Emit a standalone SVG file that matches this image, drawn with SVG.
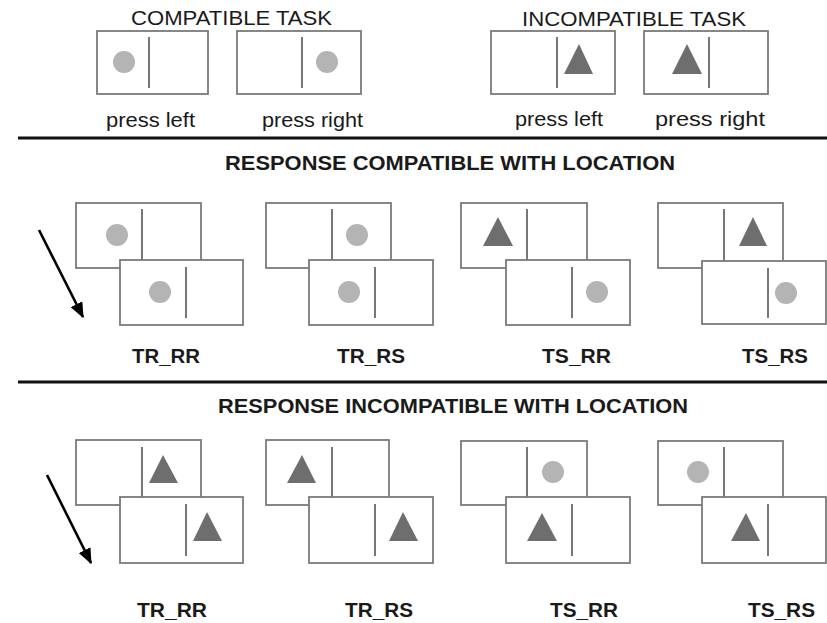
<svg xmlns="http://www.w3.org/2000/svg" width="827" height="623" viewBox="0 0 827 623">
<style>
.bg{fill:#fff}
.box{fill:#fff;stroke:#7a7a7a;stroke-width:1.8}
.div{stroke:#555;stroke-width:1.6}
.dot{fill:#b4b4b4}
.tri{fill:#6e6e6e}
.rule{stroke:#111;stroke-width:3}
.arr{stroke:#000;stroke-width:2.6;fill:none}
.t{font-family:"Liberation Sans",Arial,sans-serif;font-size:21px;fill:#1a1a1a}
.b{font-family:"Liberation Sans",Arial,sans-serif;font-size:21px;font-weight:bold;fill:#1a1a1a}
</style>
<defs>
<marker id="ah" viewBox="0 0 12 10" refX="11" refY="5" markerWidth="6" markerHeight="5" markerUnits="strokeWidth" orient="auto">
<path d="M0,0 L12,5 L0,10 z" fill="#000"/>
</marker>
</defs>
<rect class="bg" x="0" y="0" width="827" height="623"/>

<g id="header-top">
<text class="t" x="131" y="25" textLength="201" lengthAdjust="spacingAndGlyphs">COMPATIBLE TASK</text>
<text class="t" x="522" y="26" textLength="224" lengthAdjust="spacingAndGlyphs">INCOMPATIBLE TASK</text>
</g>

<g id="compat-left">
<rect class="box" x="97" y="31" width="111" height="63"/>
<line class="div" x1="149" y1="37" x2="149" y2="88"/>
<circle class="dot" cx="124" cy="62" r="11"/>
<text class="t" x="106" y="127" textLength="89" lengthAdjust="spacingAndGlyphs">press left</text>
</g>
<g id="compat-right">
<rect class="box" x="237" y="31" width="124" height="63"/>
<line class="div" x1="302" y1="37" x2="302" y2="88"/>
<circle class="dot" cx="327" cy="62" r="11"/>
<text class="t" x="262" y="127" textLength="101" lengthAdjust="spacingAndGlyphs">press right</text>
</g>
<g id="incompat-left">
<rect class="box" x="491" y="31" width="124" height="63"/>
<line class="div" x1="557" y1="37" x2="557" y2="88"/>
<polygon class="tri" points="579,44 564,74 593,74"/>
<text class="t" x="515" y="126" textLength="88" lengthAdjust="spacingAndGlyphs">press left</text>
</g>
<g id="incompat-right">
<rect class="box" x="644" y="31" width="124" height="63"/>
<line class="div" x1="709" y1="37" x2="709" y2="88"/>
<polygon class="tri" points="687,44 672,74 702,74"/>
<text class="t" x="655" y="126" textLength="110" lengthAdjust="spacingAndGlyphs">press right</text>
</g>

<g id="rules">
<line class="rule" x1="18" y1="138" x2="827" y2="138"/>
<line class="rule" x1="18" y1="382" x2="827" y2="382"/>
</g>

<g id="header-mid">
<text class="b" x="225" y="170" textLength="450" lengthAdjust="spacingAndGlyphs">RESPONSE COMPATIBLE WITH LOCATION</text>
</g>

<g id="mid-TR_RR">
<rect class="box" x="76" y="203" width="125" height="65"/>
<line class="div" x1="142" y1="209" x2="142" y2="262"/>
<circle class="dot" cx="117" cy="235" r="11"/>
<rect class="box" x="120" y="260" width="123" height="65"/>
<line class="div" x1="186" y1="267" x2="186" y2="318"/>
<circle class="dot" cx="160" cy="292" r="11"/>
<text class="b" x="132" y="363" textLength="68" lengthAdjust="spacingAndGlyphs">TR_RR</text>
</g>
<g id="mid-TR_RS">
<rect class="box" x="266" y="203" width="125" height="65"/>
<line class="div" x1="332" y1="209" x2="332" y2="262"/>
<circle class="dot" cx="357" cy="235" r="11"/>
<rect class="box" x="309" y="260" width="124" height="65"/>
<line class="div" x1="375" y1="267" x2="375" y2="318"/>
<circle class="dot" cx="349" cy="292" r="11"/>
<text class="b" x="337" y="363" textLength="68" lengthAdjust="spacingAndGlyphs">TR_RS</text>
</g>
<g id="mid-TS_RR">
<rect class="box" x="461" y="203" width="126" height="65"/>
<line class="div" x1="527" y1="209" x2="527" y2="262"/>
<polygon class="tri" points="498,217 483,246 513,246"/>
<rect class="box" x="506" y="260" width="124" height="65"/>
<line class="div" x1="572" y1="267" x2="572" y2="318"/>
<circle class="dot" cx="597" cy="292" r="11"/>
<text class="b" x="542" y="363" textLength="69" lengthAdjust="spacingAndGlyphs">TS_RR</text>
</g>
<g id="mid-TS_RS">
<rect class="box" x="658" y="203" width="125" height="65"/>
<line class="div" x1="724" y1="209" x2="724" y2="262"/>
<polygon class="tri" points="753,217 739,246 767,246"/>
<rect class="box" x="702" y="261" width="124" height="63"/>
<line class="div" x1="768" y1="268" x2="768" y2="318"/>
<circle class="dot" cx="786" cy="293" r="11"/>
<text class="b" x="742" y="363" textLength="66" lengthAdjust="spacingAndGlyphs">TS_RS</text>
</g>

<g id="header-bottom">
<text class="b" x="218" y="413" textLength="470" lengthAdjust="spacingAndGlyphs">RESPONSE INCOMPATIBLE WITH LOCATION</text>
</g>

<g id="bot-TR_RR">
<rect class="box" x="76" y="440" width="125" height="65"/>
<line class="div" x1="142" y1="447" x2="142" y2="499"/>
<polygon class="tri" points="163,455 149,483 178,483"/>
<rect class="box" x="120" y="497" width="123" height="66"/>
<line class="div" x1="186" y1="504" x2="186" y2="556"/>
<polygon class="tri" points="207,512 193,541 222,541"/>
<text class="b" x="137" y="617" textLength="70" lengthAdjust="spacingAndGlyphs">TR_RR</text>
</g>
<g id="bot-TR_RS">
<rect class="box" x="266" y="440" width="123" height="65"/>
<line class="div" x1="332" y1="447" x2="332" y2="499"/>
<polygon class="tri" points="302,455 287,483 316,483"/>
<rect class="box" x="309" y="497" width="124" height="66"/>
<line class="div" x1="375" y1="504" x2="375" y2="556"/>
<polygon class="tri" points="403,512 389,541 418,541"/>
<text class="b" x="345" y="617" textLength="68" lengthAdjust="spacingAndGlyphs">TR_RS</text>
</g>
<g id="bot-TS_RR">
<rect class="box" x="461" y="441" width="126" height="64"/>
<line class="div" x1="527" y1="447" x2="527" y2="499"/>
<circle class="dot" cx="553" cy="472" r="11"/>
<rect class="box" x="506" y="497" width="124" height="66"/>
<line class="div" x1="572" y1="504" x2="572" y2="556"/>
<polygon class="tri" points="542,513 527,541 557,541"/>
<text class="b" x="550" y="617" textLength="68" lengthAdjust="spacingAndGlyphs">TS_RR</text>
</g>
<g id="bot-TS_RS">
<rect class="box" x="658" y="441" width="125" height="64"/>
<line class="div" x1="724" y1="447" x2="724" y2="499"/>
<circle class="dot" cx="698" cy="472" r="11"/>
<rect class="box" x="702" y="497" width="124" height="66"/>
<line class="div" x1="768" y1="504" x2="768" y2="556"/>
<polygon class="tri" points="746,513 731,541 760,541"/>
<text class="b" x="748" y="617" textLength="67" lengthAdjust="spacingAndGlyphs">TS_RS</text>
</g>

<g id="connectors">
<line class="arr" x1="39" y1="230" x2="83" y2="317" marker-end="url(#ah)"/>
<line class="arr" x1="47" y1="475" x2="91" y2="563" marker-end="url(#ah)"/>
</g>
</svg>
